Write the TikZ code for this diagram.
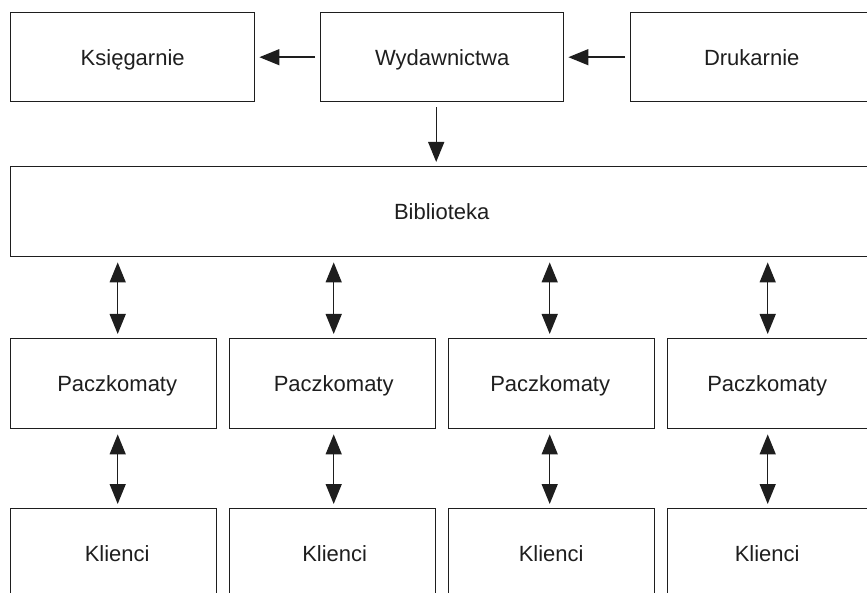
\documentclass[tikz,border=0pt]{standalone}
\usepackage{fontspec}
\setmainfont{Liberation Sans}
\usetikzlibrary{arrows.meta,positioning}
\definecolor{ink}{HTML}{1E1E1E}
\tikzset{
  box/.style={draw=ink, line width=1.4pt, text=ink, font=\fontsize{22}{24}\selectfont, inner sep=0pt, text height=15.8pt, text depth=0pt, anchor=north west},
  conn/.style={draw=ink, line width=1.4pt, -{Triangle[length=20pt,width=16pt]}, shorten >=4pt, shorten <=5pt},
  bidir/.style={draw=ink, line width=1.4pt, {Triangle[length=20pt,width=16pt]}-{Triangle[length=20pt,width=16pt]}, shorten >=4pt, shorten <=5pt}
}
\begin{document}
\begin{tikzpicture}[x=1pt,y=-1pt]
\useasboundingbox (0,0) rectangle (867,593);
\clip (0,0) rectangle (867,593);
% top row
\node[box, minimum width=244pt, minimum height=89pt] (ks) at (10,12) {Księgarnie};
\node[box, minimum width=243pt, minimum height=89pt] (wy) at (320,12) {Wydawnictwa};
\node[box, minimum width=242pt, minimum height=89pt] (dr) at (630,12) {Drukarnie};
% library
\node[box, minimum width=862pt, minimum height=90pt] (bi) at (10,166) {Biblioteka};
% parcel lockers
\node[box, minimum width=206pt, minimum height=90pt] (p1) at (10,338) {\hspace*{7pt}Paczkomaty};
\node[box, minimum width=206pt, minimum height=90pt] (p2) at (229,338) {\hspace*{2pt}Paczkomaty};
\node[box, minimum width=206pt, minimum height=90pt] (p3) at (448,338) {Paczkomaty\hspace*{3pt}};
\node[box, minimum width=206pt, minimum height=90pt] (p4) at (667,338) {Paczkomaty\hspace*{7pt}};
% clients
\node[box, minimum width=206pt, minimum height=90pt] (k1) at (10,508) {\hspace*{7pt}Klienci};
\node[box, minimum width=206pt, minimum height=90pt] (k2) at (229,508) {\hspace*{4pt}Klienci};
\node[box, minimum width=206pt, minimum height=90pt] (k3) at (448,508) {Klienci\hspace*{1pt}};
\node[box, minimum width=206pt, minimum height=90pt] (k4) at (667,508) {Klienci\hspace*{7pt}};
% connectors
\draw[conn] (wy.west) -- (ks.east);
\draw[conn] (dr.west) -- (wy.east);
\draw[conn] ([xshift=-6pt]wy.south) -- ([xshift=-6pt]wy.south |- bi.north);
\foreach \i/\dx in {1/4,2/1,3/-2,4/-3}{
  \draw[bidir] ([xshift=\dx pt]p\i.north |- bi.south) -- ([xshift=\dx pt]p\i.north);
  \draw[bidir] ([xshift=\dx pt]p\i.south) -- ([xshift=\dx pt]k\i.north);
}
\end{tikzpicture}
\end{document}
